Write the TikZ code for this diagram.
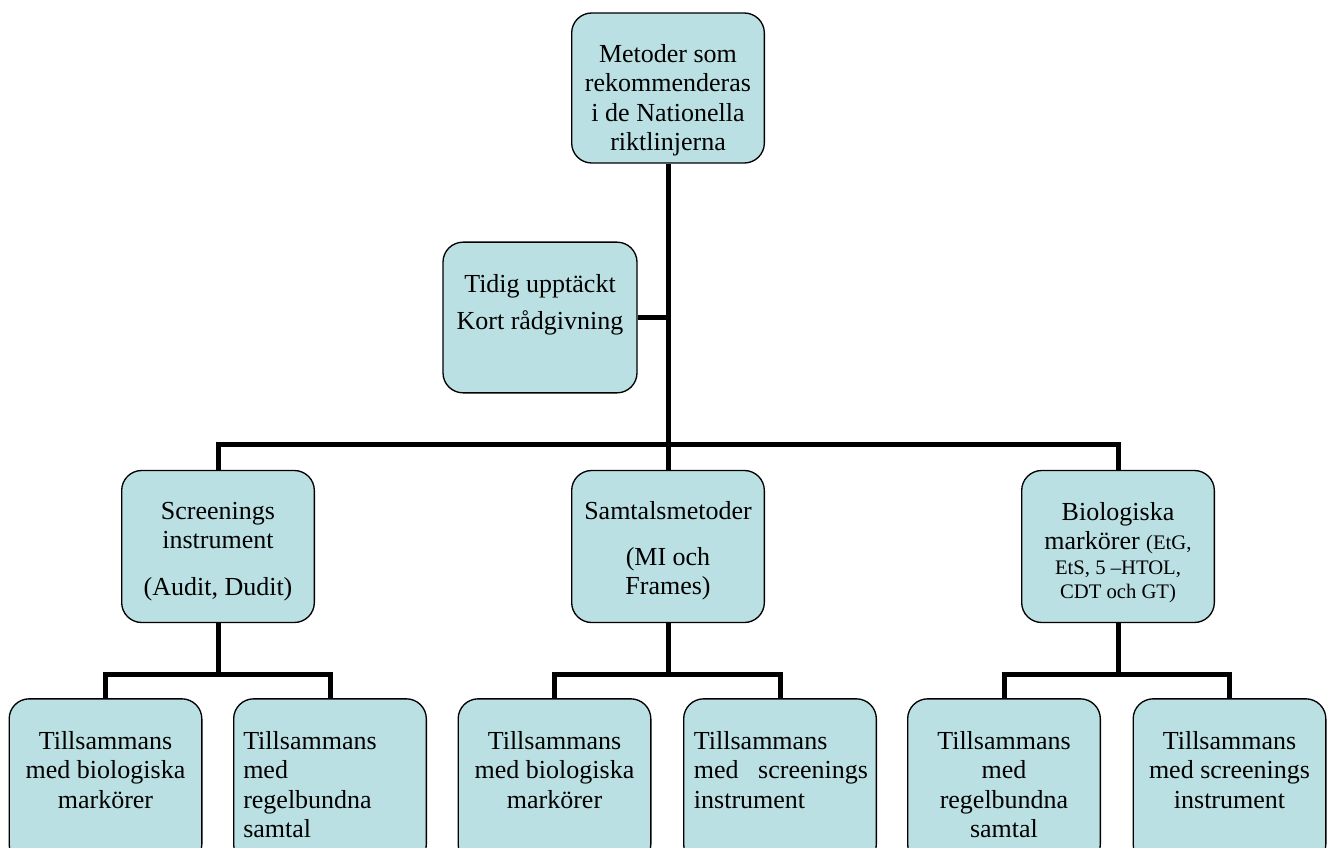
\documentclass[tikz,border=0pt]{standalone}
\usepackage{fontspec}
\setmainfont{Liberation Serif}
\definecolor{boxfill}{RGB}{186,224,227}
\newcommand\boxfont{\fontsize{19.5}{22}\selectfont}
\newcommand\parenfont{\fontsize{15.5}{18.5}\selectfont}

\begin{document}
\begin{tikzpicture}[
  x=0.75pt,y=-0.75pt,
  box/.style={draw,line width=1pt,rounded corners=15pt,fill=boxfill,
              minimum width=144.5pt,minimum height=114pt,inner sep=0pt},
  leaf/.style={box,minimum height=124pt},
  txt/.style={anchor=north,inner sep=0pt,align=center,font=\boxfont},
  ltxt/.style={txt,anchor=north west,align=left},
  link/.style={line width=3.75pt,line join=miter},
]
\useasboundingbox (0,0) rectangle (1333,848);
\clip (0,0) rectangle (1333,848);

% ---- top: the recommended methods ----
\node[box,minimum height=112.5pt] (metoder) at (668,88) {};
\node[txt] (metodertxt) at ([yshift=-22pt]metoder.north)
     {\strut Metoder som\\rekommenderas\\i de Nationella\\riktlinjerna};

% ---- side box hanging off the trunk ----
\node[box,minimum width=145.5pt,minimum height=113pt] (tidig) at (540,317.5) {};
\node[txt] (tidigtxt) at ([yshift=-23pt]tidig.north)
     {\strut Tidig upptäckt\\[5.75pt]Kort rådgivning};

% ---- second row: the three kinds of method ----
\node[box] (screen) at (218,546.5) {};
\node[txt] (screentxt) at ([yshift=-21.5pt]screen.north)
     {\strut Screenings\\instrument\\[13.25pt](Audit, Dudit)};

\node[box] (samtal) at (668,546.5) {};
\node[txt] (samtaltxt) at ([yshift=-21.5pt]samtal.north)
     {\strut Samtalsmetoder\\[12.5pt](MI och\\Frames)};

\node[box] (bio) at (1118,546.5) {};
\node[txt] (biotxt) at ([yshift=-22.5pt]bio.north)
     {\strut Biologiska\\markörer {\parenfont (EtG,}\\[-3.5pt]
      {\parenfont EtS, 5 \textendash HTOL,}\\[-4pt]
      {\parenfont CDT och GT)}};

% ---- bottom row: combinations ----
\node[leaf] (screenbio) at (105.5,781.5) {};
\node[txt] at ([yshift=-23pt]screenbio.north)
     {\strut Tillsammans\\med biologiska\\markörer};
\node[leaf] (screensamtal) at (330,781.5) {};
\node[ltxt] at ([xshift=7.5pt,yshift=-23pt]screensamtal.north west)
     {\strut Tillsammans\\med\\regelbundna\\samtal};

\node[leaf] (samtalbio) at (554.5,781.5) {};
\node[txt] at ([yshift=-23pt]samtalbio.north)
     {\strut Tillsammans\\med biologiska\\markörer};
\node[leaf] (samtalscreen) at (780,781.5) {};
\node[ltxt] at ([xshift=8pt,yshift=-23pt]samtalscreen.north west)
     {\strut Tillsammans\\med\ \ \ screenings\\instrument};

\node[leaf] (biosamtal) at (1004,781.5) {};
\node[txt] at ([yshift=-23pt]biosamtal.north)
     {\strut Tillsammans\\med\\regelbundna\\samtal};
\node[leaf] (bioscreen) at (1229.5,781.5) {};
\node[txt] at ([yshift=-23pt]bioscreen.north)
     {\strut Tillsammans\\med screenings\\instrument};

% connector levels
\coordinate (mainbar) at (0,444);
\coordinate (subbar) at (0,674);

% trunk, side branch and the main bar
\draw[link] (metoder.south) -- (samtal.north);
\draw[link] (tidig.east) -- (tidig.east -| metoder.south);
\draw[link] (screen.north) |- (bio.north |- mainbar) -- (bio.north);

% each method splits into its two combinations
\foreach \up/\lt/\rt in {screen/screenbio/screensamtal,
                         samtal/samtalbio/samtalscreen,
                         bio/biosamtal/bioscreen}{
  \draw[link] (\up.south) -- (\up.south |- subbar);
  \draw[link] (\lt.north) |- (\rt.north |- subbar) -- (\rt.north);
}

\end{tikzpicture}
\end{document}
